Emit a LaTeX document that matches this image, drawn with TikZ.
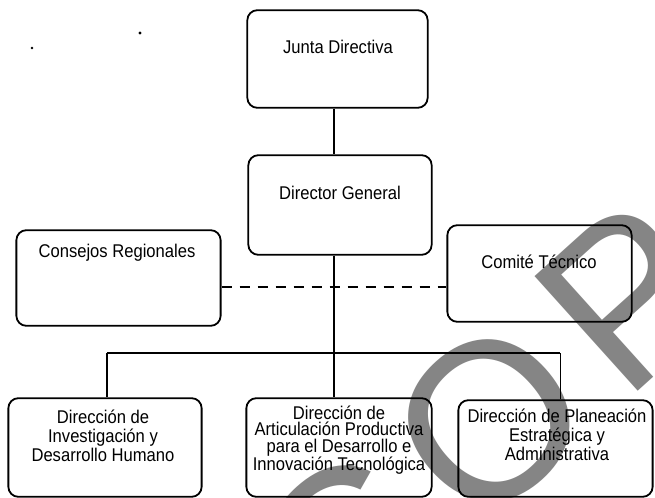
\documentclass[tikz,border=0pt]{standalone}
\usepackage{fontspec}
\setmainfont{Liberation Sans}[FakeStretch=0.9]
\newfontfamily\wmfont{Liberation Sans}[LetterSpace=11]

\tikzset{
  orgbox/.style={draw, line width=1.8bp, rounded corners=10bp, inner sep=0pt},
  lbl/.style={inner sep=0pt, align=center, font=\fontsize{18.5}{19}\selectfont},
  conn/.style={line width=1.4bp},
  busline/.style={line width=2bp},
  dashline/.style={line width=1.4bp, dash pattern=on 10bp off 8bp},
  wmark/.style={text=black!48, inner sep=0pt, font=\wmfont\fontsize{225}{225}\selectfont}
}

\begin{document}
\begin{tikzpicture}[x=1bp,y=1bp]
\fill [white] (0,0) rectangle (655,-498);
\useasboundingbox (0,0) rectangle (655,-498);

% watermark
\node [wmark, rotate=42] (wm) at (582,-338) {COPIA};

% boxes
\node [orgbox, minimum width=181, minimum height=98] (jd) at (337.5,-59) {};
\node [orgbox, minimum width=184, minimum height=100] (dg) at (340,-205) {};
\node [orgbox, minimum width=205, minimum height=96] (cr) at (118.5,-278) {};
\node [orgbox, minimum width=185, minimum height=97] (ct) at (539.5,-273.5) {};
\node [orgbox, minimum width=194, minimum height=99] (di) at (105,-447.5) {};
\node [orgbox, minimum width=186, minimum height=99] (da) at (339,-447.5) {};
\node [orgbox, minimum width=195, minimum height=97] (dp) at (555.5,-448.5) {};

% texts
\node [lbl] (jdt) at (338,-47) {Junta Directiva};
\node [lbl] (dgt) at (340,-193) {Director General};
\node [lbl] (crt) at (117,-253) {Consejos Regionales};
\node [lbl] (ctt) at (539,-262) {Comité Técnico};
\node [lbl] (dit) at (103,-436) {Dirección de\\Investigación y\\Desarrollo Humano};
\node [lbl, font=\fontsize{18.5}{16.5}\selectfont] (dat) at (339,-440) {Dirección de\\Articulación Productiva\\para el Desarrollo e\\Innovación Tecnológica};
\node [lbl] (dpt) at (557,-435) {Dirección de Planeación\\Estratégica y\\Administrativa};

% connectors
\coordinate (spine) at (334,-353);
\coordinate (dash) at (0,-287);
\draw [conn] (spine |- jd.south) -- (spine |- dg.north);
\draw [conn] (spine |- dg.south) -- (spine |- da.north);
\draw [busline] ([xshift=2]di.north |- spine) -- ([xshift=5]dp.north |- spine);
\draw [conn] ([xshift=2]di.north) -- ([xshift=2]di.north |- spine);
\draw [conn] ([xshift=5]dp.north) -- ([xshift=5]dp.north |- spine);
\draw [dashline] (cr.east |- dash) -- (ct.west |- dash);

% specks
\fill (32,-48) circle (1.3);
\fill (140,-33) circle (1.6);
\end{tikzpicture}
\end{document}
